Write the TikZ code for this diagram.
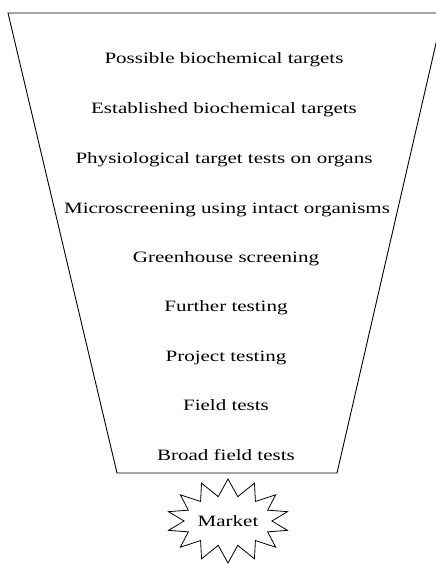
\documentclass[tikz,border=0pt]{standalone}
\usepackage{fontspec}
\setmainfont{Liberation Serif}[FakeStretch=1.33]
\usetikzlibrary{shapes.symbols}
\begin{document}
\begin{tikzpicture}[x=1pt,y=-1pt,
  stage/.style={font=\fontsize{15.8}{18}\selectfont, inner sep=0pt, anchor=base},
  funnelline/.style={line width=0.9pt, line join=miter},
  burst/.style={draw, line width=0.8pt, starburst, starburst points=14, starburst point height=17pt,
     random starburst=0, minimum width=122pt, minimum height=84pt, inner sep=0pt,
     font=\fontsize{15.8}{18}\selectfont}]
\useasboundingbox (0,0) rectangle (436,565);
\begin{scope}
\clip (0,0) rectangle (436,565);
\draw[funnelline] (8,13) -- (443,13) -- (337,473) -- (117,473) -- cycle;
\end{scope}
\node[stage] (s1) at (224,63) {Possible biochemical targets};
\node[stage] (s2) at (224,113) {Established biochemical targets};
\node[stage] (s3) at (224,163) {Physiological target tests on organs};
\node[stage] (s4) at (227,213) {Microscreening using intact organisms};
\node[stage] (s5) at (226,262) {Greenhouse screening};
\node[stage] (s6) at (226,311) {Further testing};
\node[stage] (s7) at (226,361) {Project testing};
\node[stage] (s8) at (226,410) {Field tests};
\node[stage] (s9) at (226,460) {Broad field tests};
\node[burst] (market) at (228,521) {Market};
\end{tikzpicture}
\end{document}
